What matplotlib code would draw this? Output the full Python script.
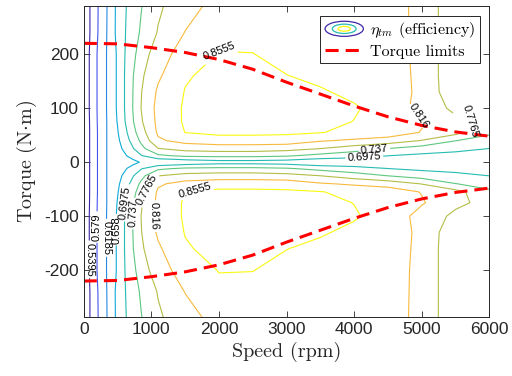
import numpy as np
import matplotlib
matplotlib.use('Agg')
import matplotlib.pyplot as plt
from matplotlib.patches import Ellipse

plt.rcParams['font.family'] = 'Liberation Sans'
plt.rcParams['mathtext.fontset'] = 'cm'
plt.rcParams['axes.unicode_minus'] = False

# efficiency map grid (motoring half, mirrored for generating)
speed = [0, 100, 200, 350, 500, 650, 850, 1100, 1500, 2000, 2500, 3000, 3500, 4000, 4500, 5000, 5500, 6000]
torque = [0, 5, 12, 25, 40, 55, 75, 100, 130, 160, 200, 240, 290]
eff = [
    [0.500, 0.545, 0.578, 0.621, 0.630, 0.645, 0.660, 0.675, 0.680, 0.680, 0.680, 0.680, 0.680, 0.679, 0.678, 0.677, 0.676, 0.675],
    [0.500, 0.545, 0.578, 0.621, 0.635, 0.650, 0.670, 0.690, 0.700, 0.709, 0.709, 0.703, 0.690, 0.688, 0.685, 0.683, 0.682, 0.680],
    [0.500, 0.545, 0.578, 0.621, 0.640, 0.660, 0.695, 0.730, 0.745, 0.747, 0.747, 0.742, 0.725, 0.710, 0.698, 0.690, 0.686, 0.684],
    [0.500, 0.545, 0.578, 0.621, 0.645, 0.675, 0.725, 0.775, 0.790, 0.796, 0.796, 0.790, 0.776, 0.757, 0.736, 0.718, 0.707, 0.697],
    [0.500, 0.545, 0.578, 0.621, 0.650, 0.690, 0.745, 0.810, 0.830, 0.837, 0.837, 0.838, 0.820, 0.810, 0.800, 0.775, 0.738, 0.720],
    [0.500, 0.545, 0.578, 0.621, 0.655, 0.700, 0.760, 0.822, 0.856, 0.865, 0.865, 0.862, 0.857, 0.846, 0.838, 0.814, 0.790, 0.745],
    [0.500, 0.546, 0.579, 0.621, 0.660, 0.710, 0.772, 0.826, 0.860, 0.867, 0.868, 0.866, 0.862, 0.855, 0.845, 0.820, 0.785, 0.765],
    [0.500, 0.548, 0.580, 0.622, 0.663, 0.713, 0.777, 0.828, 0.860, 0.870, 0.871, 0.868, 0.863, 0.858, 0.845, 0.800, 0.768, 0.752],
    [0.500, 0.548, 0.580, 0.622, 0.663, 0.713, 0.775, 0.822, 0.857, 0.869, 0.868, 0.864, 0.858, 0.850, 0.838, 0.807, 0.748, 0.747],
    [0.500, 0.548, 0.580, 0.622, 0.663, 0.713, 0.770, 0.810, 0.852, 0.866, 0.864, 0.856, 0.850, 0.843, 0.835, 0.807, 0.745, 0.745],
    [0.500, 0.548, 0.580, 0.622, 0.663, 0.710, 0.755, 0.800, 0.832, 0.857, 0.856, 0.848, 0.843, 0.838, 0.832, 0.807, 0.745, 0.745],
    [0.500, 0.543, 0.576, 0.621, 0.669, 0.705, 0.742, 0.779, 0.817, 0.845, 0.848, 0.843, 0.840, 0.836, 0.831, 0.807, 0.745, 0.745],
    [0.500, 0.543, 0.575, 0.620, 0.668, 0.702, 0.735, 0.770, 0.801, 0.829, 0.836, 0.840, 0.838, 0.834, 0.830, 0.807, 0.745, 0.745],
]
levels = [0.5395, 0.579, 0.6185, 0.658, 0.6975, 0.737, 0.7765, 0.816, 0.8555]
level_colors = ['#3e26a8', '#4655ee', '#2389e3', '#0eabd6', '#25bcb3',
                '#5dc77f', '#b3bd45', '#f8ba3d', '#f9f90f']

limit_speed = [0, 500, 1000, 1500, 2000, 2500, 3000, 3500, 4000, 4500, 5000, 5500, 6000]
limit_torque = [220, 219, 212, 203, 190, 172, 148, 126, 104, 84, 68, 56, 48]

# where the contour labels sit (speed, torque)
label_spots = [(2000, 206), (4950, 85), (5720, 75), (4300, 24), (4150, 10),
               (70, -180), (200, -120), (320, -140), (440, -125),
               (610, -75), (730, -95), (930, -50), (1040, -100), (1650, -55)]

t = np.array(torque)
z = np.array(eff)
t_full = np.concatenate([-t[:0:-1], t])
z_full = np.vstack([z[:0:-1], z])


class ContourKey:
    pass


class ContourIconHandler:
    def legend_artist(self, legend, orig_handle, fontsize, handlebox):
        x0, y0 = handlebox.xdescent, handlebox.ydescent
        w, h = handlebox.width, handlebox.height
        cx, cy = x0 + w / 2, y0 + h / 2
        for s, c in [(1.0, level_colors[0]), (0.62, level_colors[4]), (0.32, level_colors[-1])]:
            e = Ellipse((cx, cy), w * s, h * 1.35 * s, fill=False, edgecolor=c,
                        lw=0.9, transform=handlebox.get_transform())
            handlebox.add_artist(e)
        return e


fig = plt.figure(figsize=(5.12, 3.76), dpi=100)
ax = fig.add_axes([0.1635, 0.1577, 0.7922, 0.8263])

cs = ax.contour(speed, t_full, z_full, levels=levels, colors=level_colors, linewidths=0.8)

line, = ax.plot(limit_speed, limit_torque, '--', color='r', lw=2.2, dashes=(4.3, 2.3))
ax.plot(limit_speed, [-v for v in limit_torque], '--', color='r', lw=2.2, dashes=(4.3, 2.3))

ax.set_xlim(0, 6000)
ax.set_ylim(-286, 289)
ax.set_xticks([0, 1000, 2000, 3000, 4000, 5000, 6000])
ax.set_yticks([-200, -100, 0, 100, 200])
ax.tick_params(direction='in', top=True, right=True, length=4, width=0.6,
               labelsize=12.5, colors='#262626')
for sp in ax.spines.values():
    sp.set_color('#262626')
    sp.set_linewidth(0.7)

ax.clabel(cs, fmt='%g', fontsize=8, colors='k', inline=True, inline_spacing=2,
          manual=label_spots)

ax.set_xlabel('Speed (rpm)', family='cmr10', fontsize=14.5, color='#262626')
ax.set_ylabel(r'Torque (N$\cdot$m)', family='cmr10', fontsize=14.5, color='#262626')

leg = ax.legend([ContourKey(), line], [r'$\eta_{tm}$ (efficiency)', 'Torque limits'],
                handler_map={ContourKey: ContourIconHandler()}, loc='upper right',
                fancybox=False, framealpha=1, edgecolor='#262626',
                prop={'family': 'cmr10', 'size': 11.5}, borderpad=0.3,
                handlelength=2.4, labelspacing=0.25, handletextpad=0.4, borderaxespad=0.6)
leg.get_frame().set_linewidth(0.7)

fig.savefig('out.png', dpi=100)
